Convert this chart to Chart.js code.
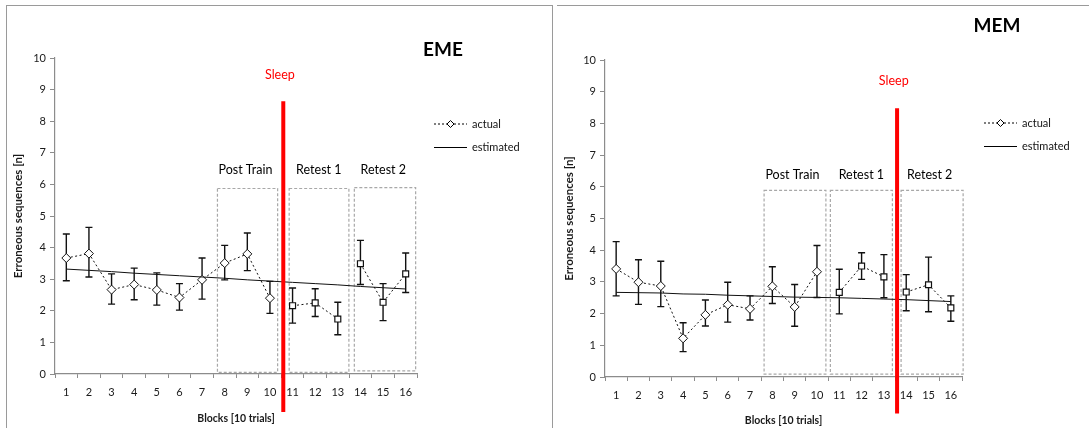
<!DOCTYPE html>
<html>
<head>
<meta charset="utf-8">
<script src="https://cdn.jsdelivr.net/npm/chart.js@4.4.1/dist/chart.umd.min.js"></script>
<style>
    body { margin: 0; background: #fff; }
    #page { position: relative; width: 1089px; height: 428px; overflow: hidden; }
    .frame { position: absolute; border: 1px solid #9a9a9a; }
    #frameL { left: 6px; top: 5px; width: 545px; height: 440px; border-bottom: none; }
    #frameR { left: 557px; top: 5px; width: 540px; height: 440px; border-left: none; border-right: none; border-bottom: none; }
    canvas { position: absolute; top: 0; }
    #emeChart { left: 0; }
    #memChart { left: 551px; }
</style>
</head>
<body>
<div id="page">
    <div class="frame" id="frameL"></div>
    <div class="frame" id="frameR"></div>
    <canvas id="emeChart" width="551" height="428"></canvas>
    <canvas id="memChart" width="538" height="428"></canvas>
</div>
<script>
// blocks on the x axis
const blocks = ['1', '2', '3', '4', '5', '6', '7', '8', '9', '10', '11', '12', '13', '14', '15', '16'];
const groupNames = ['Post Train', 'Retest 1', 'Retest 2'];

// EME panel
const emeActual = [3.67, 3.81, 2.67, 2.83, 2.66, 2.42, 2.98, 3.51, 3.80, 2.40, 2.16, 2.25, 1.74, 3.49, 2.27, 3.17];
const emeUpper = [4.43, 4.64, 3.17, 3.35, 3.20, 2.86, 3.67, 4.07, 4.46, 2.93, 2.72, 2.70, 2.27, 4.23, 2.86, 3.83];
const emeLower = [2.95, 3.07, 2.21, 2.35, 2.18, 2.02, 2.37, 2.98, 3.27, 1.92, 1.61, 1.82, 1.24, 2.83, 1.69, 2.58];
const emeEstimated = [3.32, 3.28, 3.24, 3.19, 3.15, 3.11, 3.07, 3.03, 2.98, 2.94, 2.90, 2.86, 2.82, 2.77, 2.73, 2.69];

// MEM panel
const memActual = [3.41, 2.99, 2.87, 1.22, 1.96, 2.28, 2.15, 2.86, 2.21, 3.32, 2.67, 3.50, 3.16, 2.68, 2.91, 2.18];
const memUpper = [4.27, 3.70, 3.65, 1.71, 2.43, 2.99, 2.56, 3.48, 2.92, 4.15, 3.40, 3.92, 3.86, 3.23, 3.78, 2.56];
const memLower = [2.56, 2.29, 2.22, 0.80, 1.61, 1.73, 1.80, 2.32, 1.60, 2.51, 1.99, 3.08, 2.50, 2.09, 2.06, 1.76];
const memEstimated = [2.67, 2.66, 2.65, 2.62, 2.61, 2.58, 2.56, 2.54, 2.52, 2.51, 2.50, 2.48, 2.46, 2.44, 2.41, 2.38];

// index ranges of the three phases (0-based)
const phases = [[7, 9], [10, 12], [13, 15]];

const FONT = "Lato, 'Liberation Sans', sans-serif";

function pickRange(values, from, to) {
    return values.map((v, i) => (i >= from && i <= to ? v : null));
}

// draws group boxes, error bars, sleep line, labels, legend and panel title
const annotate = {
    id: 'annotate',
    beforeDatasetsDraw(chart, args, opts) {
        const { ctx } = chart;
        const x = chart.scales.x, y = chart.scales.y;

        ctx.save();
        ctx.strokeStyle = '#a8a8a8';
        ctx.lineWidth = 1.2;
        ctx.setLineDash([3, 2]);
        opts.boxes.forEach(b => {
            const x0 = x.getPixelForValue(b.from), x1 = x.getPixelForValue(b.to);
            const y0 = y.getPixelForValue(b.top), y1 = y.getPixelForValue(b.bottom);
            ctx.strokeRect(x0, y0, x1 - x0, y1 - y0);
        });
        ctx.restore();

        ctx.save();
        ctx.strokeStyle = '#111';
        ctx.lineWidth = 1.4;
        opts.upper.forEach((hi, i) => {
            const px = x.getPixelForValue(i);
            const top = y.getPixelForValue(hi), bot = y.getPixelForValue(opts.lower[i]);
            ctx.beginPath();
            ctx.moveTo(px, top); ctx.lineTo(px, bot);
            ctx.moveTo(px - 3.5, top); ctx.lineTo(px + 3.5, top);
            ctx.moveTo(px - 3.5, bot); ctx.lineTo(px + 3.5, bot);
            ctx.stroke();
        });
        ctx.restore();
    },
    afterDatasetsDraw(chart, args, opts) {
        const { ctx } = chart;
        const x = chart.scales.x, y = chart.scales.y;

        // sleep divider
        const sx = x.getPixelForValue(opts.sleep.at);
        ctx.save();
        ctx.strokeStyle = '#ff0000';
        ctx.lineWidth = 4;
        ctx.beginPath();
        ctx.moveTo(sx, y.getPixelForValue(opts.sleep.top));
        ctx.lineTo(sx, y.getPixelForValue(opts.sleep.bottom));
        ctx.stroke();

        ctx.textAlign = 'center';
        ctx.textBaseline = 'middle';
        ctx.fillStyle = '#ff0000';
        ctx.font = `12.5px ${FONT}`;
        ctx.fillText('Sleep', x.getPixelForValue(opts.sleep.labelX), y.getPixelForValue(opts.sleep.labelY));

        ctx.fillStyle = '#000';
        ctx.font = `12.5px ${FONT}`;
        groupNames.forEach((name, i) => {
            ctx.fillText(name, x.getPixelForValue(opts.labelX[i]), y.getPixelForValue(opts.labelY));
        });

        // panel title
        ctx.font = `bold 19px ${FONT}`;
        ctx.fillStyle = '#000';
        ctx.fillText(opts.title.text, opts.title.x, opts.title.y);

        // legend
        const lg = opts.legend;
        ctx.strokeStyle = '#000';
        ctx.lineWidth = 1;
        ctx.setLineDash([2, 2]);
        ctx.beginPath();
        ctx.moveTo(lg.x, lg.y); ctx.lineTo(lg.x + 33, lg.y);
        ctx.stroke();
        ctx.setLineDash([]);
        ctx.fillStyle = '#fff';
        ctx.beginPath();
        const dx = lg.x + 16.5;
        ctx.moveTo(dx, lg.y - 3.5); ctx.lineTo(dx + 3.5, lg.y); ctx.lineTo(dx, lg.y + 3.5); ctx.lineTo(dx - 3.5, lg.y);
        ctx.closePath();
        ctx.fill(); ctx.stroke();
        ctx.beginPath();
        ctx.moveTo(lg.x, lg.y + 23.5); ctx.lineTo(lg.x + 33, lg.y + 23.5);
        ctx.stroke();

        ctx.fillStyle = '#111';
        ctx.font = `11px ${FONT}`;
        ctx.textAlign = 'left';
        ctx.fillText('actual', lg.x + 38, lg.y);
        ctx.fillText('estimated', lg.x + 38, lg.y + 23.5);
        ctx.restore();
    }
};

function makeChart(canvasId, actual, estimated, upper, lower, layout, notes) {
    const diamond = { pointStyle: 'rectRot', pointRadius: 4.5, pointBackgroundColor: '#fff', pointBorderColor: '#111', pointBorderWidth: 1 };
    const square = { pointStyle: 'rect', pointRadius: 4.2, pointBackgroundColor: '#fff', pointBorderColor: '#111', pointBorderWidth: 1.2 };
    const dotted = { borderColor: '#111', borderWidth: 1, borderDash: [2, 2.5], fill: false, tension: 0, spanGaps: false };

    return new Chart(document.getElementById(canvasId), {
        type: 'line',
        data: {
            labels: blocks,
            datasets: [
                { label: 'estimated', data: estimated, borderColor: '#111', borderWidth: 1, pointRadius: 0, fill: false },
                { label: 'actual', data: pickRange(actual, 0, 9), ...dotted, ...diamond },
                { label: 'actual', data: pickRange(actual, phases[1][0], phases[1][1]), ...dotted, ...square },
                { label: 'actual', data: pickRange(actual, phases[2][0], phases[2][1]), ...dotted, ...square }
            ]
        },
        options: {
            responsive: false,
            animation: false,
            layout: { padding: layout.padding },
            plugins: {
                legend: { display: false },
                tooltip: { enabled: false },
                annotate: { ...notes, upper, lower }
            },
            scales: {
                x: {
                    type: 'category',
                    offset: true,
                    afterFit: s => { s.height = layout.xHeight; },
                    grid: { offset: true, drawOnChartArea: false, tickLength: 4, color: '#8c8c8c' },
                    border: { color: '#8c8c8c', width: 1.2 },
                    ticks: { color: '#1a1a1a', padding: 8, font: { family: FONT, size: 11 } },
                    title: { display: true, text: 'Blocks [10 trials]', color: '#1a1a1a', padding: { top: 0, bottom: layout.xTitlePad }, font: { family: FONT, size: 10.5, weight: 'bold' } }
                },
                y: {
                    min: 0,
                    max: 10,
                    afterFit: s => { s.width = layout.yWidth; },
                    grid: { drawOnChartArea: false, tickLength: 5, color: '#8c8c8c' },
                    border: { color: '#8c8c8c', width: 1.2 },
                    ticks: { stepSize: 1, color: '#1a1a1a', padding: 4, font: { family: FONT, size: 11 } },
                    title: { display: true, text: 'Erroneous sequences [n]', color: '#1a1a1a', padding: { top: 11, bottom: 0 }, font: { family: FONT, size: 11.5, weight: 'bold' } }
                }
            }
        },
        plugins: [annotate]
    });
}

makeChart('emeChart', emeActual, emeEstimated, emeUpper, emeLower,
    { padding: { left: 0, right: 134, top: 58, bottom: 0 }, xHeight: 54, yWidth: 55, xTitlePad: 3 },
    {
        boxes: [
            { from: 6.68, to: 9.34, top: 5.87, bottom: 0.05 },
            { from: 9.85, to: 12.49, top: 5.87, bottom: 0.05 },
            { from: 12.73, to: 15.44, top: 5.90, bottom: 0.10 }
        ],
        sleep: { at: 9.59, top: 8.63, bottom: -1.2, labelX: 9.44, labelY: 9.47 },
        labelX: [7.92, 11.16, 14.01],
        labelY: 6.47,
        title: { text: 'EME', x: 443, y: 50 },
        legend: { x: 434, y: 124 }
    });

makeChart('memChart', memActual, memEstimated, memUpper, memLower,
    { padding: { left: 0, right: 127, top: 60, bottom: 0 }, xHeight: 51, yWidth: 54, xTitlePad: 1 },
    {
        boxes: [
            { from: 6.63, to: 9.40, top: 5.89, bottom: 0.09 },
            { from: 9.60, to: 12.38, top: 5.89, bottom: 0.09 },
            { from: 12.77, to: 15.55, top: 5.89, bottom: 0.09 }
        ],
        sleep: { at: 12.59, top: 8.48, bottom: -1.15, labelX: 12.44, labelY: 9.35 },
        labelX: [7.90, 10.99, 14.05],
        labelY: 6.37,
        title: { text: 'MEM', x: 446, y: 26 },
        legend: { x: 433, y: 123 }
    });
</script>
</body>
</html>
